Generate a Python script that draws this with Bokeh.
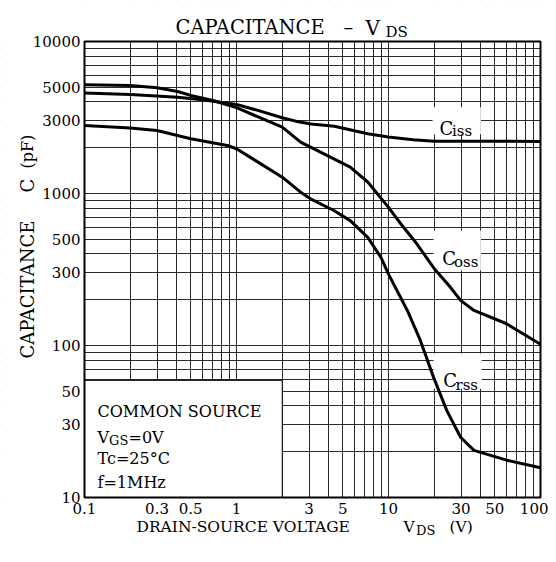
import math
from bokeh.plotting import figure
from bokeh.models import FixedTicker, Label, LogAxis, Grid, Range1d
from bokeh.embed import file_html
from bokeh.resources import INLINE

# ---- data ----
vds_ciss = [0.1, 0.2, 0.41, 0.6, 1, 1.4, 2, 2.6, 3.1, 4.4, 7.3, 10, 14.5, 20, 100]
ciss = [4590, 4480, 4300, 4140, 3850, 3510, 3150, 2950, 2870, 2770, 2470, 2350, 2260, 2210, 2200]

vds_coss = [0.1, 0.2, 0.3, 0.41, 0.5, 0.7, 1, 2, 2.64, 3.07, 4.37, 5.6, 7.3, 10, 12, 15.4, 20, 25, 29.8, 36.5, 59.8, 100]
coss = [5190, 5140, 4960, 4690, 4420, 4090, 3670, 2730, 2180, 2020, 1690, 1490, 1190, 810, 635, 465, 320, 248, 198, 170, 139, 102]

vds_crss = [0.1, 0.2, 0.3, 0.5, 0.87, 1, 2, 2.64, 3.07, 4.37, 5.6, 7.3, 8.9, 10, 13.3, 16.2, 19.8, 24.2, 29.8, 36.5, 59.8, 100]
crss = [2800, 2700, 2600, 2290, 2070, 1970, 1280, 1020, 922, 773, 663, 515, 381, 295, 170, 108, 61.7, 37.3, 24.9, 20.4, 17.6, 15.7]

x_ticks = [0.1, 0.3, 0.5, 1, 3, 5, 10, 30, 50, 100]
x_tick_labels = ["0.1", "0.3", "0.5", "1", "3", "5", "10", "30", "50", "100"]
x_minor = [0.2, 0.4, 0.6, 0.7, 0.8, 0.9, 2, 4, 6, 7, 8, 9, 20, 40, 60, 70, 80, 90]

y_ticks = [10, 30, 50, 100, 300, 500, 1000, 3000, 5000, 10000]
y_tick_labels = ["10", "30", "50", "100", "300", "500", "1000", "3000", "5000", "10000"]
y_minor = [20, 40, 60, 70, 80, 90, 200, 400, 600, 700, 800, 900,
           2000, 4000, 6000, 7000, 8000, 9000]

x_lim = (0.1, 100)
y_lim = (10, 10000)

# label boxes (data coords) : left, right, bottom, top
box_left = [19.5, 19.8, 19.8]
box_right = [40.5, 40.5, 41.0]
box_bottom = [2450, 311, 52]
box_top = [3700, 572, 88.5]

legend_box = dict(left=0.1, right=2.0, bottom=10, top=59)

FONT = "DejaVu Serif"

# ---- layout: the frame fills the canvas; the chart area is a sub-box ----
W, H = 548, 554
PL, PR, PT, PB = 84, 8, 41, 57          # chart area margins in px
dec_px_x = (W - PL - PR) / math.log10(x_lim[1] / x_lim[0])
dec_px_y = (H - PT - PB) / math.log10(y_lim[1] / y_lim[0])
xr = Range1d(x_lim[0] * 10 ** (-PL / dec_px_x), x_lim[1] * 10 ** (PR / dec_px_x))
yr = Range1d(y_lim[0] * 10 ** (-PB / dec_px_y), y_lim[1] * 10 ** (PT / dec_px_y))

p = figure(width=W, height=H, x_axis_type="log", y_axis_type="log",
           x_axis_location=None, y_axis_location=None,
           x_range=xr, y_range=yr,
           output_backend="svg", toolbar_location=None,
           min_border_left=0, min_border_right=0, min_border_top=0, min_border_bottom=0)
p.background_fill_color = "white"
p.border_fill_color = "white"
p.outline_line_color = None

xticker = FixedTicker(ticks=x_ticks, minor_ticks=x_minor)
yticker = FixedTicker(ticks=y_ticks, minor_ticks=y_minor)

for dim, tk in ((0, xticker), (1, yticker)):
    p.add_layout(Grid(dimension=dim, ticker=tk,
                      grid_line_color="#2a2a2a", grid_line_width=1,
                      minor_grid_line_color="#2a2a2a", minor_grid_line_width=1))

axis_style = dict(axis_line_color=None, major_tick_line_color=None, minor_tick_line_color=None,
                  major_tick_in=0, major_tick_out=0, minor_tick_in=0, minor_tick_out=0,
                  major_label_text_font=FONT, major_label_text_font_size="15px",
                  major_label_text_color="black")
xaxis = LogAxis(ticker=xticker, fixed_location=y_lim[0],
                major_label_overrides=dict(zip(x_ticks, x_tick_labels)),
                major_label_standoff=5, **axis_style)
yaxis = LogAxis(ticker=yticker, fixed_location=x_lim[0],
                major_label_overrides=dict(zip(y_ticks, y_tick_labels)),
                major_label_standoff=4, **axis_style)

# white masks outside the chart area (hide grid lines there)
x0, x1 = xr.start / 2, xr.end * 2
y0, y1 = yr.start / 2, yr.end * 2
p.quad(left=[x0, x_lim[1], x0, x0], right=[x_lim[0], x1, x1, x1],
       bottom=[y0, y0, y_lim[1], y0], top=[y1, y1, y1, y_lim[0]],
       fill_color="white", line_color=None)

# white boxes behind curve labels
p.quad(left=box_left, right=box_right, bottom=box_bottom, top=box_top,
       fill_color="white", line_color=None)
# legend box
p.quad(left=[legend_box["left"]], right=[legend_box["right"]],
       bottom=[legend_box["bottom"]], top=[legend_box["top"]],
       fill_color="white", line_color="black", line_width=1)

for xs, ys in ((vds_ciss, ciss), (vds_coss, coss), (vds_crss, crss)):
    p.line(xs, ys, line_color="black", line_width=3)

# chart frame
p.quad(left=[x_lim[0]], right=[x_lim[1]], bottom=[y_lim[0]], top=[y_lim[1]],
       fill_color=None, line_color="black", line_width=2)

p.add_layout(xaxis, "below")
p.add_layout(yaxis, "left")


def lab(text, ix, iy, size, angle=0.0):
    """position given in page pixels (x right, y down), baseline-left anchored"""
    p.add_layout(Label(x=ix, y=H - iy, x_units="screen", y_units="screen", text=text,
                       text_font=FONT, text_font_size=size, text_color="black",
                       text_baseline="alphabetic", text_align="left", angle=angle))


# title
lab("CAPACITANCE", 175, 27.3, "19.5px")
lab("\u2013", 343, 27.3, "19.5px")
lab("V", 365, 27.3, "20px")
lab("DS", 385, 31.7, "15px")

# x axis label
lab("DRAIN-SOURCE VOLTAGE", 136, 526.7, "15.5px")
lab("V", 403, 526.7, "15.5px")
lab("DS", 415.5, 529.5, "13px")
lab("(V)", 449, 526.7, "15.5px")

# y axis label (rotated)
lab("CAPACITANCE", 27, 358, "18px", math.pi / 2)
lab("C", 27, 192, "18px", math.pi / 2)
lab("(pF)", 27, 168, "16px", math.pi / 2)

# curve labels
lab("C", 439, 128.3, "18px")
lab("iss", 451.5, 130.7, "15px")
lab("C", 441.7, 258.3, "18px")
lab("oss", 453.5, 261.7, "15px")
lab("C", 442.7, 380, "18px")
lab("rss", 455, 384, "15px")

# conditions legend
lab("COMMON SOURCE", 97, 410.7, "16px")
lab("V", 97, 436.7, "16px")
lab("GS", 108.5, 439.5, "13px")
lab("=0V", 128, 436.7, "16px")
lab("Tc=25\u00b0C", 97, 458.3, "16px")
lab("f=1MHz", 97, 481.7, "16px")

open("out.html", "w").write(file_html(p, INLINE))
